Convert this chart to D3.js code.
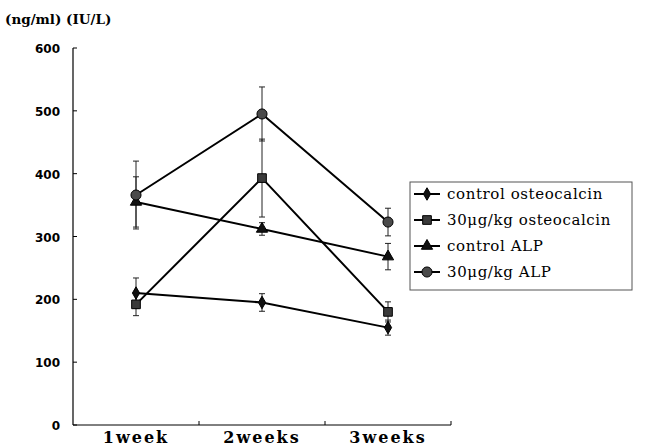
<!DOCTYPE html>
<html>
<head>
<meta charset="utf-8">
<script src="https://cdn.jsdelivr.net/npm/d3@7"></script>
<style>
  body { margin: 0; background: #fff; }
  #container { width: 647px; height: 447px; }
</style>
</head>
<body>
<div id="container"></div>
<script>
// data
const weeks = ["1week", "2weeks", "3weeks"];
const seriesNames = ["control osteocalcin", "30\u03bcg/kg osteocalcin", "control ALP", "30\u03bcg/kg ALP"];
const ctrlOsteo = [210, 195, 155];
const ctrlOsteoErr = [24, 14, 12];
const highOsteo = [192, 393, 180];
const highOsteoErr = [18, 62, 16];
const ctrlAlp = [355, 312, 268];
const ctrlAlpErr = [40, 10, 21];
const highAlp = [366, 495, 323];
const highAlpErr = [54, 43, 22];
const yTicks = [0, 100, 200, 300, 400, 500, 600];

const symbols = [d3.symbolDiamond, d3.symbolSquare, d3.symbolTriangle, d3.symbolCircle];
const symSize = [45, 75, 55, 80];
const symFill = ["#111", "#3a3a3a", "#111", "#4a4a4a"];

const series = [
  { name: seriesNames[0], vals: ctrlOsteo, err: ctrlOsteoErr },
  { name: seriesNames[1], vals: highOsteo, err: highOsteoErr },
  { name: seriesNames[2], vals: ctrlAlp, err: ctrlAlpErr },
  { name: seriesNames[3], vals: highAlp, err: highAlpErr }
];

const container = document.getElementById("container");
const svg = d3.select(container).append("svg")
  .attr("width", 647).attr("height", 447);

const x = d3.scaleBand().domain(weeks).range([73, 451]);
const y = d3.scaleLinear().domain([0, 600]).range([425, 48]);
const cx = (i) => x(weeks[i]) + x.bandwidth() / 2;

// y axis
svg.append("line").attr("x1", 73).attr("x2", 73).attr("y1", y(600)).attr("y2", y(0))
  .attr("stroke", "#000").attr("stroke-width", 1.2);
svg.selectAll(".ytick").data(yTicks).enter().append("line")
  .attr("x1", 73).attr("x2", 77).attr("y1", d => y(d)).attr("y2", d => y(d))
  .attr("stroke", "#000");
svg.selectAll(".ylab").data(yTicks).enter().append("text")
  .attr("x", 60).attr("y", d => y(d) + 5)
  .attr("text-anchor", "end")
  .attr("font-family", "DejaVu Sans").attr("font-weight", "bold").attr("font-size", 12)
  .text(d => d);

// x axis
svg.append("line").attr("x1", 73).attr("x2", 451).attr("y1", y(0)).attr("y2", y(0))
  .attr("stroke", "#000").attr("stroke-width", 1);
svg.selectAll(".xtick").data(weeks).enter().append("line")
  .attr("x1", d => x(d) + x.bandwidth()).attr("x2", d => x(d) + x.bandwidth())
  .attr("y1", y(0)).attr("y2", y(0) - 4)
  .attr("stroke", "#000");
svg.selectAll(".xlab").data(weeks).enter().append("text")
  .attr("x", d => x(d) + x.bandwidth() / 2).attr("y", 443)
  .attr("text-anchor", "middle")
  .attr("font-family", "DejaVu Serif").attr("font-weight", "bold").attr("font-size", 16)
  .attr("letter-spacing", 2)
  .text(d => d);

svg.append("text").attr("x", 5).attr("y", 24)
  .attr("font-family", "DejaVu Serif").attr("font-weight", "bold").attr("font-size", 13.5)
  .text("(ng/ml) (IU/L)");

// error bars
series.forEach((s) => {
  const g = svg.append("g");
  s.vals.forEach((v, i) => {
    const lo = y(v - s.err[i]), hi = y(v + s.err[i]);
    g.append("line").attr("x1", cx(i)).attr("x2", cx(i)).attr("y1", lo).attr("y2", hi)
      .attr("stroke", "#222").attr("stroke-width", 1);
    [lo, hi].forEach(yy => g.append("line")
      .attr("x1", cx(i) - 3).attr("x2", cx(i) + 3).attr("y1", yy).attr("y2", yy)
      .attr("stroke", "#222").attr("stroke-width", 1));
  });
});

// lines and markers
const line = d3.line().x((d, i) => cx(i)).y(d => y(d));
series.forEach((s, k) => {
  svg.append("path").attr("d", line(s.vals))
    .attr("fill", "none").attr("stroke", "#000").attr("stroke-width", 2);
});
series.forEach((s, k) => {
  svg.selectAll(".m" + k).data(s.vals).enter().append("path")
    .attr("d", d3.symbol().type(symbols[k]).size(symSize[k]))
    .attr("transform", (d, i) => `translate(${cx(i)},${y(d)})`)
    .attr("fill", symFill[k]).attr("stroke", "#000").attr("stroke-width", 1);
});

// legend
const lg = svg.append("g");
lg.append("rect").attr("x", 410).attr("y", 182).attr("width", 222).attr("height", 108)
  .attr("fill", "#fff").attr("stroke", "#555").attr("stroke-width", 1);
series.forEach((s, k) => {
  const ly = 194 + k * 26;
  lg.append("line").attr("x1", 414).attr("x2", 440).attr("y1", ly).attr("y2", ly)
    .attr("stroke", "#000").attr("stroke-width", 2);
  lg.append("path").attr("d", d3.symbol().type(symbols[k]).size(symSize[k]))
    .attr("transform", `translate(427,${ly})`)
    .attr("fill", symFill[k]).attr("stroke", "#000");
  lg.append("text").attr("x", 447).attr("y", ly + 5)
    .attr("font-family", "DejaVu Serif").attr("font-size", 15)
    .attr("letter-spacing", 0.6)
    .text(s.name);
});
</script>
</body>
</html>
